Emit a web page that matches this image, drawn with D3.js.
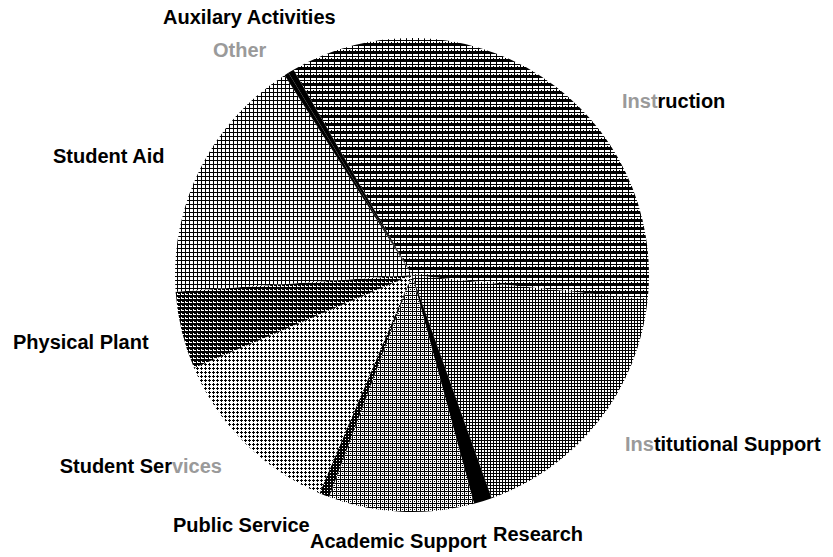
<!DOCTYPE html>
<html>
<head>
<meta charset="utf-8">
<script src="https://cdn.jsdelivr.net/npm/d3@7"></script>
<style>
  html, body { margin: 0; padding: 0; background: #fff; }
  svg { display: block; }
  text { font-family: "Liberation Sans", Arial, sans-serif; font-weight: bold; font-size: 20px; fill: #000; }
</style>
</head>
<body>
<svg id="chart" width="833" height="557"></svg>
<script>
// ---- data ----
const categories = ["Instruction", "Institutional Support", "Research", "Academic Support",
  "Public Service", "Student Services", "Physical Plant", "Student Aid", "Other", "Auxilary Activities"];
const values = [35.0, 17.9, 1.25, 9.9, 0.7, 12.2, 5.3, 17.1, 0.3, 0.4];
const labelTexts = categories;

// ---- layout / style ----
const W = 833, H = 557;
const cx = 412, cy = 275, R = 237;
const startDeg = -30;
const patternIds = ["pInstr", "pInst", "pBlack", "pAcad", "pPub", "pServ", "pPhys", "pAid", "pBlack", "pBlack"];
const labelLayout = {
  "Instruction":           {x: 622, y: 108, anchor: "start", grey: [0, 4]},
  "Institutional Support": {x: 625, y: 451, anchor: "start", grey: [0, 3]},
  "Research":              {x: 493, y: 541, anchor: "start", grey: null},
  "Academic Support":      {x: 310, y: 548, anchor: "start", grey: null},
  "Public Service":        {x: 173, y: 532, anchor: "start", grey: null},
  "Student Services":      {x: 222, y: 473, anchor: "end",   grey: [11, 16]},
  "Physical Plant":        {x: 13,  y: 349, anchor: "start", grey: null},
  "Student Aid":           {x: 53,  y: 163, anchor: "start", grey: null},
  "Other":                 {x: 213, y: 57,  anchor: "start", grey: [0, 5]},
  "Auxilary Activities":   {x: 163, y: 24,  anchor: "start", grey: null}
};

const svg = d3.select("#chart");
const defs = svg.append("defs");

// halftone-like patterns: [w, h, black rects [x,y,w,h]]
const patternDefs = {
  pInstr: [6, 8, [[0,0,6,3],[0,5,6,1],[0,0,1,8],[3,7,1,1]]],
  pInst:  [3, 3, [[0,0,3,1],[0,0,1,3]]],
  pBlack: [4, 4, [[0,0,4,4]]],
  pAcad:  [4, 4, [[0,0,1,4],[0,0,4,1],[2,2,1,1]]],
  pPub:   [3, 3, [[0,0,3,2],[0,0,2,3]]],
  pServ:  [4, 4, [[1,0,1,3],[0,1,3,1]]],
  pPhys:  [4, 4, [[0,0,4,2],[0,0,1,4],[2,2,2,1]]],
  pAid:   [4, 4, [[1,0,1,4],[0,1,4,1]]]
};
Object.entries(patternDefs).forEach(([id, [w, h, rects]]) => {
  const p = defs.append("pattern").attr("id", id)
    .attr("patternUnits", "userSpaceOnUse").attr("width", w).attr("height", h);
  p.append("rect").attr("width", w).attr("height", h).attr("fill", "#fff");
  rects.forEach(r => p.append("rect").attr("x", r[0]).attr("y", r[1])
    .attr("width", r[2]).attr("height", r[3]).attr("fill", "#000"));
});

const pie = d3.pie().sort(null).value(d => d)
  .startAngle(startDeg * Math.PI / 180)
  .endAngle(startDeg * Math.PI / 180 + 2 * Math.PI);
const arc = d3.arc().innerRadius(0).outerRadius(R);

const g = svg.append("g").attr("transform", `translate(${cx},${cy})`);
g.selectAll("path.slice").data(pie(values)).join("path")
  .attr("class", "slice")
  .attr("d", arc)
  .attr("fill", (d, i) => `url(#${patternIds[i]})`)
  .attr("stroke", "none");

// labels
categories.forEach((c, i) => {
  const L = labelLayout[c];
  const t = svg.append("text").attr("x", L.x).attr("y", L.y).attr("text-anchor", L.anchor);
  const s = labelTexts[i];
  if (L.grey) {
    const [a, b] = L.grey;
    if (a > 0) t.append("tspan").text(s.slice(0, a));
    t.append("tspan").attr("fill", "#9a9a9a").text(s.slice(a, b));
    if (b < s.length) t.append("tspan").text(s.slice(b));
  } else {
    t.text(s);
  }
});
</script>
</body>
</html>
